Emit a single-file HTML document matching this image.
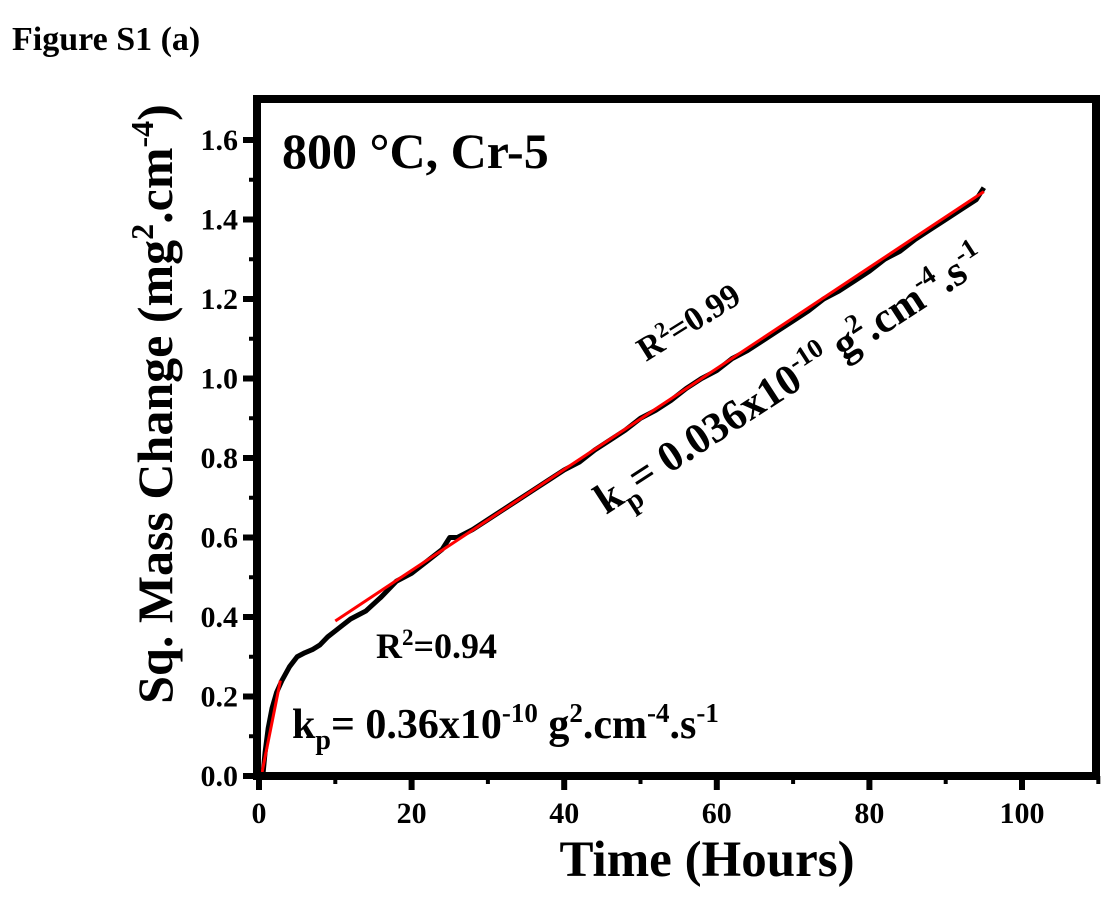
<!DOCTYPE html>
<html><head><meta charset="utf-8"><style>
body{margin:0;background:#fff;width:1116px;height:919px;overflow:hidden}
text{font-family:"Liberation Serif",serif;font-weight:bold;fill:#000}
</style></head><body>
<svg width="1116" height="919">
<text x="12" y="50" font-size="34">Figure S1 (a)</text>
<g id="axes"></g>
<g id="marks"></g>
<rect x="257" y="99" width="839" height="677" fill="none" stroke="#000" stroke-width="8"/>
<text x="282" y="168" font-size="50">800 °C, Cr-5</text>
<text x="376" y="658" font-size="36">R<tspan font-size="23" dy="-13">2</tspan><tspan dy="13">=0.94</tspan></text>
<text x="292" y="738" font-size="42">k<tspan font-size="28" dy="11">p</tspan><tspan dy="-11">= 0.36x10</tspan><tspan font-size="27" dy="-16">-10</tspan><tspan dy="16"> g</tspan><tspan font-size="27" dy="-16">2</tspan><tspan dy="16">.cm</tspan><tspan font-size="27" dy="-16">-4</tspan><tspan dy="16">.s</tspan><tspan font-size="27" dy="-16">-1</tspan></text>
<text transform="translate(646,362) rotate(-32)" font-size="34">R<tspan font-size="22" dy="-12">2</tspan><tspan dy="12">=0.99</tspan></text>
<text transform="translate(606,515) rotate(-33)" font-size="43">k<tspan font-size="29" dy="12">p</tspan><tspan dy="-12">= 0.036x10</tspan><tspan font-size="27" dy="-17">-10</tspan><tspan dy="17">  g</tspan><tspan font-size="27" dy="-17">2</tspan><tspan dy="17">.cm</tspan><tspan font-size="27" dy="-17">-4</tspan><tspan dy="17">.s</tspan><tspan font-size="27" dy="-17">-1</tspan></text>
<text x="707" y="876" font-size="51" text-anchor="middle">Time (Hours)</text>
<text transform="translate(172,404) rotate(-90)" font-size="50" text-anchor="middle">Sq. Mass Change (mg<tspan font-size="32" dy="-19">2</tspan><tspan dy="19">.cm</tspan><tspan font-size="32" dy="-19">-4</tspan><tspan dy="19">)</tspan></text>
</svg>
<script>
const xTicks=[0,20,40,60,80,100];
const yTicks=[0.0,0.2,0.4,0.6,0.8,1.0,1.2,1.4,1.6];
const dataX=[0.5,0.8,1.2,1.7,2.3,3,4,5,6,7,8,9,10,11,12,13,14,16,18,20,22,24,25,26,28,30,32,34,36,38,40,42,44,46,48,50,52,54,56,58,60,62,64,66,68,70,72,74,76,78,80,82,84,86,88,90,92,94,95];
const dataY=[0,0.06,0.12,0.17,0.21,0.24,0.275,0.3,0.31,0.318,0.33,0.35,0.365,0.38,0.395,0.405,0.415,0.45,0.49,0.51,0.54,0.57,0.6,0.6,0.62,0.645,0.67,0.695,0.72,0.745,0.77,0.79,0.82,0.845,0.87,0.9,0.92,0.945,0.975,1.0,1.02,1.05,1.07,1.095,1.12,1.145,1.17,1.2,1.22,1.245,1.27,1.3,1.32,1.35,1.375,1.4,1.425,1.45,1.48];
const fit1X=[0.3,2.8], fit1Y=[0,0.24];
const fit2X=[10,95], fit2Y=[0.39,1.47];
const sx=v=>259+v*7.63, sy=v=>776-v*397.5;
const NS="http://www.w3.org/2000/svg";
const axes=document.getElementById('axes'), marks=document.getElementById('marks');
function mk(tag,attrs,parent){const e=document.createElementNS(NS,tag);for(const k in attrs)e.setAttribute(k,attrs[k]);parent.appendChild(e);return e;}
xTicks.forEach((t,i)=>{
  const l=mk('line',{x1:sx(t),x2:sx(t),y1:776,y2:790,stroke:'#000','stroke-width':6},axes);
  
  
  const m=mk('line',{x1:sx(t+10),x2:sx(t+10),y1:776,y2:784,stroke:'#000','stroke-width':4},axes);
  
  
  const tx=mk('text',{x:sx(t),y:823,'font-size':30,'text-anchor':'middle'},axes);tx.textContent=t;
  
  
});
yTicks.forEach(t=>{
  const l=mk('line',{x1:243,x2:257,y1:sy(t),y2:sy(t),stroke:'#000','stroke-width':6},axes);
  
  
  if(t<1.6){const m=mk('line',{x1:249,x2:257,y1:sy(t+0.1),y2:sy(t+0.1),stroke:'#000','stroke-width':4},axes);
  
  }
  const tx=mk('text',{x:238,y:sy(t)+10,'font-size':30,'text-anchor':'end'},axes);tx.textContent=t.toFixed(1);
  
  
});
const d=dataX.map((x,i)=>(i?'L':'M')+sx(x)+' '+sy(dataY[i])).join(' ');
const p=mk('path',{d:d,fill:'none',stroke:'#000','stroke-width':5,'stroke-linejoin':'round'},marks);


const f1=mk('line',{x1:sx(fit1X[0]),y1:sy(fit1Y[0]),x2:sx(fit1X[1]),y2:sy(fit1Y[1]),stroke:'#f00','stroke-width':3},marks);


const f2=mk('line',{x1:sx(fit2X[0]),y1:sy(fit2Y[0]),x2:sx(fit2X[1]),y2:sy(fit2Y[1]),stroke:'#f00','stroke-width':3},marks);


</script>
</body></html>
